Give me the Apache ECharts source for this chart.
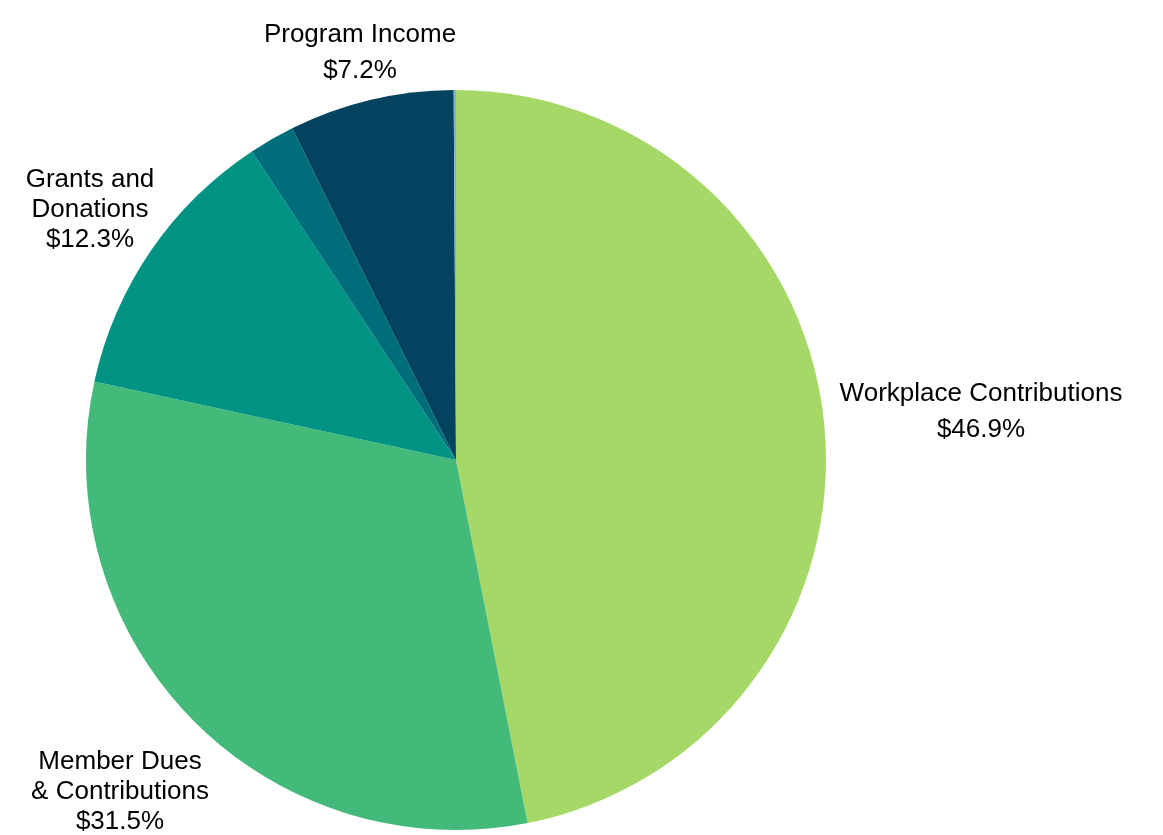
<!DOCTYPE html>
<html>
<head>
<meta charset="utf-8">
<script src="https://cdn.jsdelivr.net/npm/echarts@6/dist/echarts.min.js"></script>
<style>html,body{margin:0;padding:0;background:#fff}#c{width:1163px;height:835px}</style>
</head>
<body>
<div id="c"></div>
<script>
const categories = ['Workplace Contributions', 'Member Dues\n& Contributions', 'Grants and\nDonations', 'Other', 'Program Income', 'Other (minor)'];
const values = [46.9, 31.5, 12.3, 2.0, 7.2, 0.1];
const valueLabels = ['$46.9%', '$31.5%', '$12.3%', '', '$7.2%', ''];
const colors = ['#a5d867', '#43b97a', '#009384', '#006d7a', '#03435f', '#8fb0c4'];

const labelPos = [
  {x: 981, y: 412, lh: 36},
  {x: 120, y: 792, lh: 30},
  {x: 90, y: 210, lh: 30},
  null,
  {x: 360, y: 53, lh: 36},
  null
];

const data = categories.map((c, i) => ({
  name: c,
  value: values[i],
  itemStyle: {color: colors[i]},
  label: labelPos[i] ? {show: true, lineHeight: labelPos[i].lh} : {show: false}
}));

const chart = echarts.init(document.getElementById('c'), null, {renderer: 'canvas'});
chart.setOption({
  animation: false,
  series: [{
    type: 'pie',
    center: [456, 460],
    radius: 370,
    startAngle: 90,
    clockwise: true,
    data: data,
    itemStyle: {borderWidth: 0},
    emphasis: {disabled: true},
    label: {
      position: 'outside',
      color: '#000',
      fontSize: 26,
      fontFamily: 'Liberation Sans, Arial, sans-serif',
      align: 'center',
      overflow: 'none',
      width: 400,
      formatter: p => p.name + '\n' + valueLabels[p.dataIndex]
    },
    labelLine: {show: false},
    labelLayout: function (params) {
      const lp = labelPos[params.dataIndex];
      if (!lp) return {};
      return {x: lp.x, y: lp.y, align: 'center', verticalAlign: 'middle'};
    }
  }]
});
</script>
</body>
</html>
